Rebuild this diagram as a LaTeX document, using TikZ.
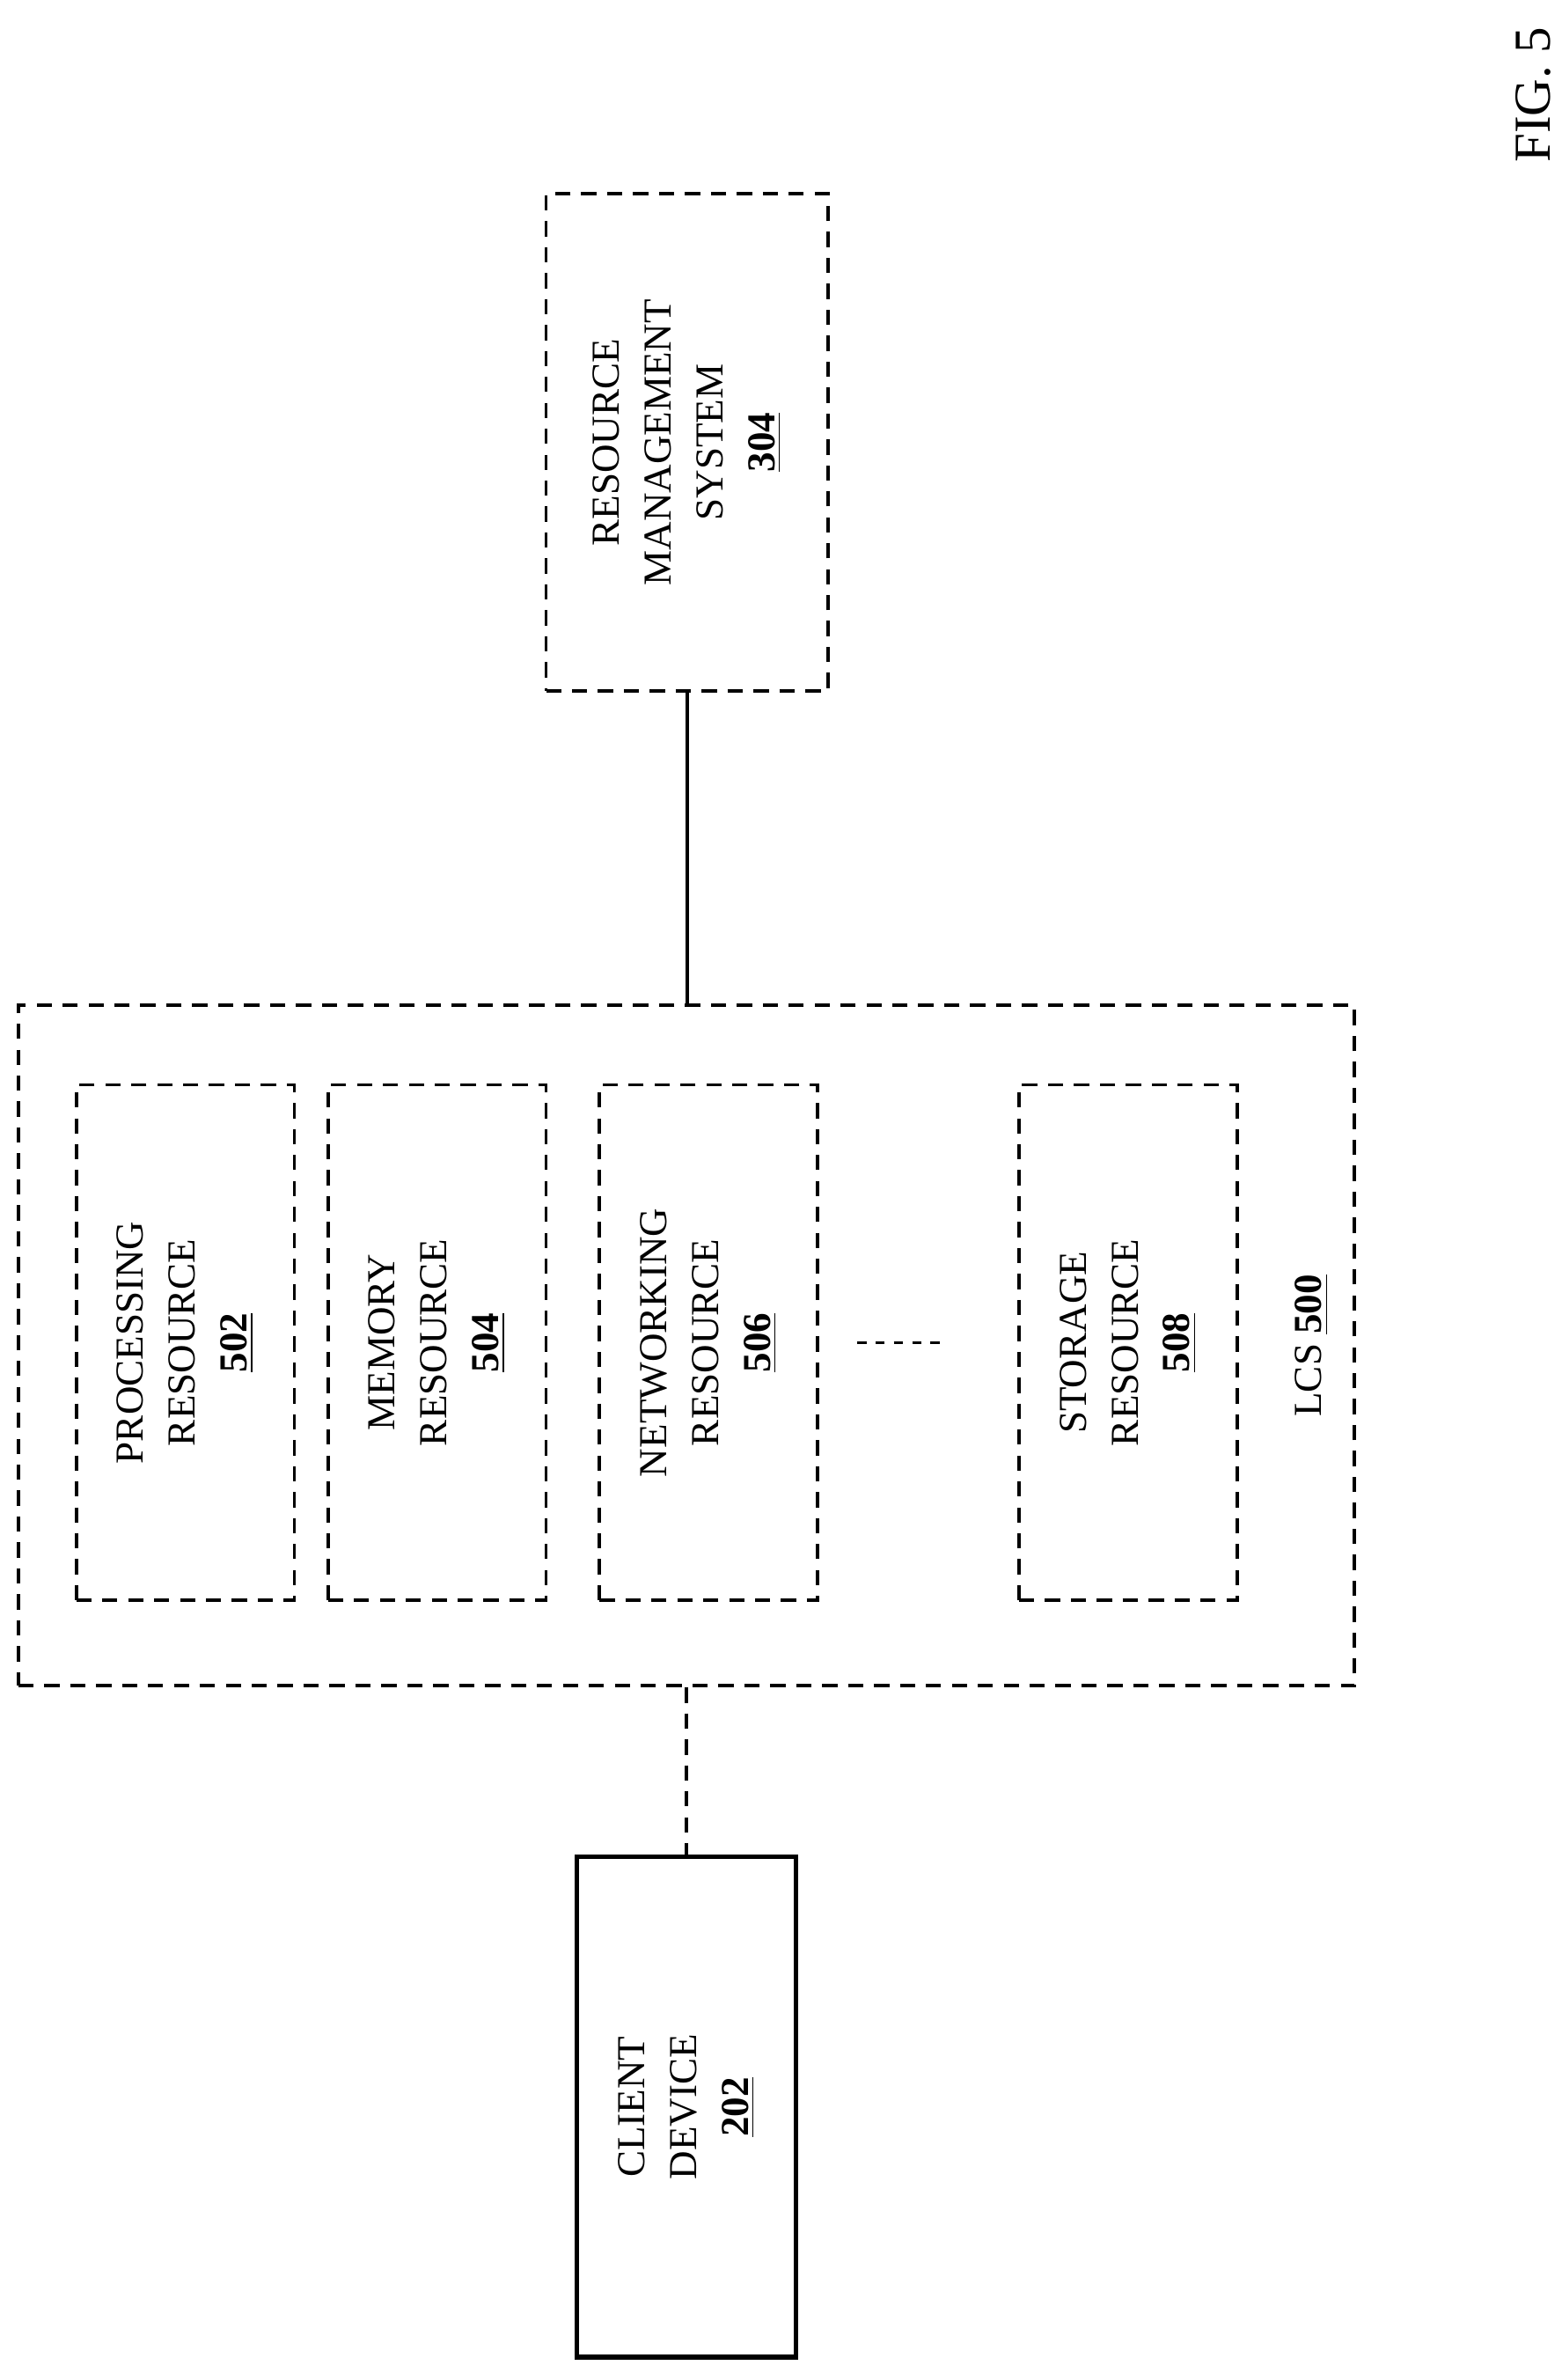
\documentclass[tikz,border=0pt]{standalone}
\usepackage{fontspec}
\setmainfont{Liberation Serif}
\usepackage{tikz}

\tikzset{
  box/.style={draw, dash pattern=on 5pt off 3.5pt, line width=1.1pt, inner sep=0pt},
  solidbox/.style={draw, line width=1.5pt, inner sep=0pt},
  lbl/.style={rotate=90, align=center, font=\fontsize{13}{17}\selectfont}
}
\newcommand{\refnum}[1]{\underline{\textbf{#1}}}

\begin{document}
\begin{tikzpicture}[x=0.5pt,y=-0.5pt]
\useasboundingbox (0,0) rectangle (1024,1560);
% resource management system
\node[box, minimum width=92.5pt, minimum height=163pt] (rms) at (450.5,290) {};
\node[lbl] at (rms) {RESOURCE\\MANAGEMENT\\SYSTEM\\\refnum{304}};
% lcs and its resources
\node[box, minimum width=438pt, minimum height=223pt] (lcs) at (450,882) {};
\node[lbl] at (860,882) {LCS \refnum{500}};
\node[box, minimum width=71.5pt, minimum height=169pt] (proc) at (121.5,880) {};
\node[lbl] at (proc) {PROCESSING\\RESOURCE\\\refnum{502}};
\node[box, minimum width=71.5pt, minimum height=169pt] (mem) at (286.5,880) {};
\node[lbl] at (mem) {MEMORY\\RESOURCE\\\refnum{504}};
\node[box, minimum width=71.5pt, minimum height=169pt] (net) at (464.5,880) {};
\node[lbl] at (net) {NETWORKING\\RESOURCE\\\refnum{506}};
\node[box, minimum width=71.5pt, minimum height=169pt] (stor) at (739.5,880) {};
\node[lbl] at (stor) {STORAGE\\RESOURCE\\\refnum{508}};
\coordinate (dl) at (562,880);
\coordinate (dr) at (622,880);
\draw[line width=0.8pt, dash pattern=on 3pt off 3pt] (dl) -- (dr);
% client device
\node[solidbox, minimum width=72pt, minimum height=164pt] (client) at (450,1381) {};
\node[lbl] at (client) {CLIENT\\DEVICE\\\refnum{202}};
% connections
\draw[line width=1.1pt] (rms.south) -- (rms.south |- lcs.north);
\draw[line width=1.1pt, dash pattern=on 5pt off 3.5pt] (client.north |- lcs.south) -- (client.north);
% figure label
\node[rotate=90, font=\fontsize{17}{20}\selectfont] (fig) at (1005,62) {FIG. 5};
\end{tikzpicture}
\end{document}
